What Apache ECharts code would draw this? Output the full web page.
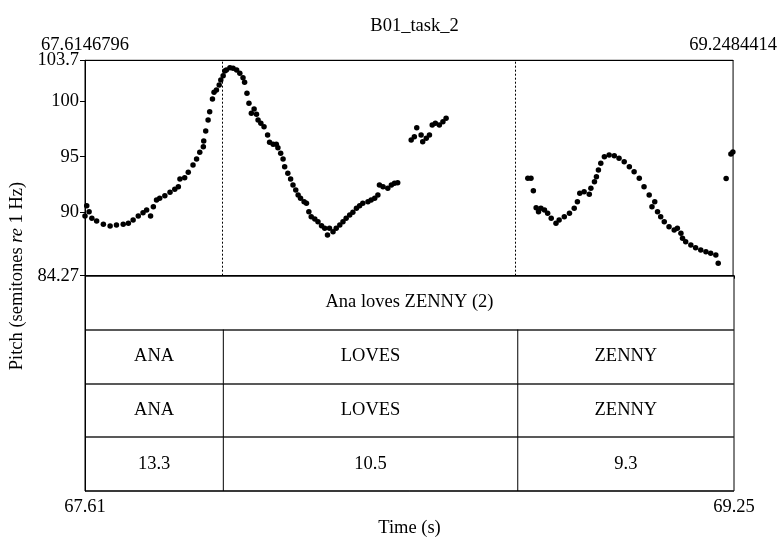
<!DOCTYPE html>
<html>
<head>
<meta charset="utf-8">
<script src="https://cdn.jsdelivr.net/npm/echarts@6/dist/echarts.min.js"></script>
<style>
  html, body { margin: 0; padding: 0; background: #fff; }
  #chart { width: 780px; height: 539px; }
</style>
</head>
<body>
<div id="chart"></div>
<script>
// Pitch track (time in s, pitch in semitones re 1 Hz)
const times = [67.6147,67.619,67.625,67.632,67.644,67.661,67.678,67.694,67.711,67.724,67.736,67.749,67.761,67.770,67.780,67.787,67.795,67.803,67.816,67.829,67.841,67.850,67.854,67.866,67.875,67.887,67.896,67.904,67.913,67.914,67.919,67.925,67.929,67.936,67.940,67.946,67.953,67.957,67.963,67.967,67.971,67.980,67.988,67.997,68.005,68.013,68.017,68.023,68.028,68.034,68.041,68.047,68.051,68.058,68.066,68.075,68.080,68.089,68.097,68.101,68.108,68.114,68.118,68.126,68.133,68.139,68.146,68.152,68.158,68.167,68.173,68.179,68.185,68.194,68.202,68.211,68.219,68.226,68.231,68.240,68.248,68.257,68.265,68.273,68.282,68.290,68.299,68.307,68.315,68.328,68.336,68.345,68.353,68.357,68.366,68.378,68.387,68.395,68.403,68.437,68.445,68.451,68.462,68.466,68.475,68.483,68.490,68.498,68.508,68.517,68.525,68.731,68.739,68.745,68.752,68.758,68.764,68.773,68.781,68.790,68.802,68.810,68.823,68.836,68.848,68.856,68.862,68.873,68.886,68.890,68.899,68.904,68.909,68.915,68.924,68.936,68.949,68.961,68.974,68.987,68.999,69.012,69.024,69.037,69.044,69.051,69.058,69.066,69.075,69.087,69.100,69.108,69.117,69.121,69.129,69.142,69.154,69.167,69.180,69.192,69.205,69.211,69.231,69.243,69.248];
const pitch = [89.66,90.58,90.04,89.45,89.20,88.91,88.75,88.84,88.91,89.00,89.29,89.66,89.95,90.20,89.66,90.49,91.10,91.25,91.49,91.79,92.06,92.30,92.99,93.11,93.60,94.26,94.80,95.40,95.91,96.42,97.32,98.31,99.06,100.21,100.81,101.02,101.47,101.92,102.31,102.73,102.82,103.03,102.98,102.82,102.53,102.13,101.72,100.72,99.82,98.92,99.31,98.83,98.31,98.02,97.71,96.96,96.30,96.12,96.12,95.82,95.31,94.80,94.10,93.51,92.99,92.45,92.00,91.55,91.25,90.94,90.80,90.04,89.59,89.38,89.14,88.78,88.55,87.94,88.55,88.24,88.55,88.84,89.14,89.45,89.75,89.99,90.35,90.58,90.80,90.94,91.10,91.25,91.55,92.45,92.30,92.15,92.45,92.60,92.66,96.51,96.81,97.62,96.96,96.36,96.66,96.96,97.86,98.02,97.86,98.16,98.47,93.06,93.06,91.94,90.40,90.04,90.35,90.20,89.90,89.45,89.00,89.29,89.59,89.90,90.35,90.94,91.70,91.85,91.61,92.15,92.75,93.20,93.80,94.41,95.00,95.16,95.09,94.86,94.55,94.10,93.65,93.06,92.30,91.55,90.49,90.94,90.04,89.59,89.14,88.69,88.39,88.55,88.09,87.64,87.34,87.04,86.80,86.59,86.43,86.29,86.14,85.39,93.04,95.25,95.43];

// Time window and pitch range
const tStart = 67.6146796;
const tEnd = 69.2484414;
const pMin = 84.27;
const pMax = 103.7;
const pitchTicks = [84.27, 90, 95, 100, 103.7];
const topTimeLabels = ['67.6146796', '69.2484414'];
const bottomTimeLabels = ['67.61', '69.25'];

// TextGrid: word boundaries and the labels of each tier
const wordBounds = [67.9629, 68.7041];
const sentenceTier = ['Ana loves ZENNY (2)'];
const wordTier = ['ANA', 'LOVES', 'ZENNY'];
const glossTier = ['ANA', 'LOVES', 'ZENNY'];
const valueTier = ['13.3', '10.5', '9.3'];

const FONT = 'Liberation Serif';
const FS = 18.5;

// Build interval rows: [start, end, row], with labels kept alongside
const edges = [tStart, ...wordBounds, tEnd];
const tierRows = [];
const tierLabels = [];
tierRows.push([tStart, tEnd, 0]); tierLabels.push(sentenceTier[0]);
[wordTier, glossTier, valueTier].forEach((labels, k) => {
  labels.forEach((lab, i) => {
    tierRows.push([edges[i], edges[i + 1], k + 1]);
    tierLabels.push(lab);
  });
});

const points = times.map((t, i) => [t, pitch[i]]);

const chart = echarts.init(document.getElementById('chart'), null, { renderer: 'canvas' });

chart.setOption({
  animation: false,
  backgroundColor: '#fff',
  textStyle: { fontFamily: FONT, color: '#000' },
  title: {
    text: 'B01_task_2',
    left: 409.5,
    textAlign: 'center',
    top: 12,
    textStyle: { fontFamily: FONT, fontSize: FS, fontWeight: 'normal', color: '#000' }
  },
  graphic: [{
    type: 'text',
    x: 17.5,
    y: 276,
    rotation: Math.PI / 2,
    style: {
      text: '{n|Pitch (semitones }{i|re}{n| 1 Hz)}',
      align: 'center',
      verticalAlign: 'middle',
      rich: {
        n: { fontFamily: FONT, fontSize: FS, fill: '#000' },
        i: { fontFamily: FONT, fontSize: FS, fontStyle: 'italic', fill: '#000' }
      }
    }
  }],
  grid: [
    { left: 85, right: 46, top: 60.3, height: 215.4, show: true, borderColor: '#000', borderWidth: 1, backgroundColor: 'transparent' },
    { left: 85, right: 46, top: 275.7, height: 216, show: true, borderColor: '#000', borderWidth: 1, backgroundColor: 'transparent' }
  ],
  xAxis: [
    {
      gridIndex: 0, type: 'value', position: 'top', min: tStart, max: tEnd,
      axisLine: { show: true, lineStyle: { color: '#000', width: 1 } },
      axisTick: { show: false },
      splitLine: { show: false },
      axisLabel: {
        customValues: [tStart, tEnd],
        margin: 6,
        fontFamily: FONT, fontSize: FS, color: '#000',
        formatter: v => (Math.abs(v - tStart) < 1e-6 ? topTimeLabels[0] : topTimeLabels[1])
      }
    },
    {
      gridIndex: 1, type: 'value', position: 'bottom', min: tStart, max: tEnd,
      name: 'Time (s)', nameLocation: 'middle', nameGap: 28,
      nameTextStyle: { fontFamily: FONT, fontSize: FS, color: '#000' },
      axisLine: { show: true, lineStyle: { color: '#000', width: 1 } },
      axisTick: { show: true, customValues: [tStart, tEnd], length: 3, lineStyle: { color: '#000' } },
      splitLine: { show: false },
      axisLabel: {
        customValues: [tStart, tEnd],
        margin: 7,
        fontFamily: FONT, fontSize: FS, color: '#000',
        formatter: v => (Math.abs(v - tStart) < 1e-6 ? bottomTimeLabels[0] : bottomTimeLabels[1])
      }
    }
  ],
  yAxis: [
    {
      gridIndex: 0, type: 'value', min: pMin, max: pMax,
      axisLine: { show: true, lineStyle: { color: '#000', width: 1 } },
      axisTick: { show: true, customValues: pitchTicks, length: 5, lineStyle: { color: '#000' } },
      splitLine: { show: false },
      axisLabel: {
        customValues: pitchTicks,
        margin: 6,
        fontFamily: FONT, fontSize: FS, color: '#000',
        formatter: v => String(v)
      }
    },
    {
      gridIndex: 1, type: 'value', min: 0, max: 4, interval: 1, inverse: true,
      axisLine: { show: true, lineStyle: { color: '#000', width: 1 } },
      axisTick: { show: false },
      axisLabel: { show: false },
      splitLine: { show: true, lineStyle: { color: '#222', width: 1.5 } }
    }
  ],
  series: [
    {
      type: 'scatter',
      xAxisIndex: 0, yAxisIndex: 0,
      data: points,
      symbol: 'circle',
      symbolSize: 5.5,
      clip: false,
      itemStyle: { color: '#000', opacity: 1 },
      silent: true,
      markLine: {
        silent: true,
        symbol: 'none',
        label: { show: false },
        lineStyle: { color: '#000', width: 1, type: [2, 2] },
        data: wordBounds.map(b => ({ xAxis: b }))
      }
    },
    {
      type: 'custom',
      xAxisIndex: 1, yAxisIndex: 1,
      data: tierRows,
      silent: true,
      renderItem: function (params, api) {
        const s = api.value(0), e = api.value(1), row = api.value(2);
        const p0 = api.coord([s, row]);
        const p1 = api.coord([e, row + 1]);
        const children = [{
          type: 'text',
          x: (p0[0] + p1[0]) / 2,
          y: (p0[1] + p1[1]) / 2,
          style: {
            text: tierLabels[params.dataIndex],
            fontFamily: FONT, fontSize: FS, fill: '#000',
            align: 'center', verticalAlign: 'middle'
          }
        }];
        if (s > tStart + 1e-6) {
          children.push({
            type: 'line',
            shape: { x1: p0[0], y1: p0[1], x2: p0[0], y2: p1[1] },
            style: { stroke: '#000', lineWidth: 1 }
          });
        }
        return { type: 'group', children: children };
      }
    }
  ]
});
</script>
</body>
</html>
